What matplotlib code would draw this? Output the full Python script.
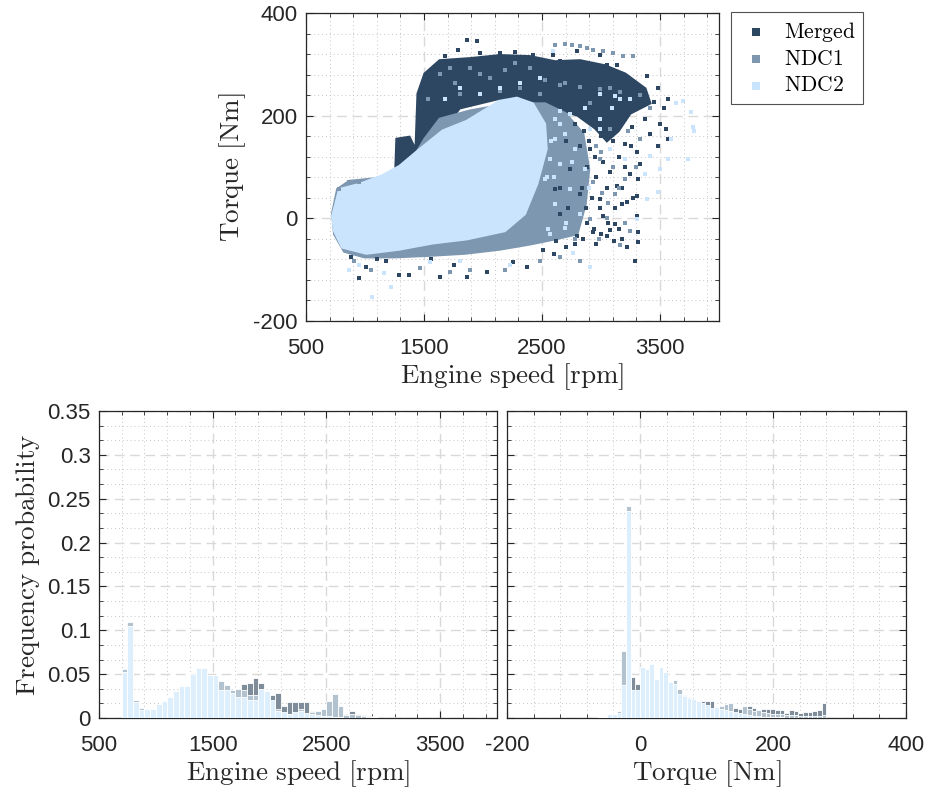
import numpy as np
import matplotlib
matplotlib.use("Agg")
import matplotlib.pyplot as plt
from matplotlib.ticker import FixedLocator, FuncFormatter

plt.rcParams['mathtext.fontset'] = 'cm'
plt.rcParams['font.family'] = ['Liberation Sans', 'DejaVu Sans']
plt.rcParams['axes.unicode_minus'] = False

# ---------------- scatter data (engine speed [rpm], torque [Nm]) ----------------
# dense regions (outline of the point clouds)
merged_poly_rpm = [1257, 1266, 1377, 1428, 1445, 1504, 1632, 1887, 2143, 2398, 2611, 2823, 3036, 3206,
                   3377, 3419, 3249, 3150, 3050, 2950, 2800, 2600, 2483, 2143, 1802, 1547, 1411, 1291]
merged_poly_trq = [96, 155, 159, 135, 243, 282, 308, 312, 318, 316, 306, 308, 298, 282,
                   253, 224, 204, 170, 150, 175, 200, 215, 204, 233, 214, 135, 86, 76]
ndc1_poly_rpm = [721, 764, 866, 1181, 1377, 1504, 1632, 1887, 2228, 2526, 2700, 2850, 2900, 2870,
                 2800, 2611, 2398, 2143, 1845, 1547, 1249, 994, 823, 738]
ndc1_poly_trq = [10, 57, 73, 80, 106, 155, 194, 210, 224, 224, 205, 165, 96, 27,
                 -31, -41, -51, -61, -69, -73, -76, -76, -65, -31]
ndc2_poly_rpm = [721, 781, 951, 1147, 1291, 1462, 1657, 1862, 2032, 2143, 2287, 2423, 2526, 2540,
                 2460, 2355, 2185, 1862, 1572, 1291, 1011, 806, 738]
ndc2_poly_trq = [4, 57, 67, 84, 102, 135, 171, 190, 214, 229, 235, 224, 184, 135,
                 67, 8, -25, -41, -49, -61, -69, -57, -25]

# sparse points
merged_rpm = [3564, 3479, 3530, 3547, 3564, 3394, 3309, 3317, 3309, 3309, 3317, 3317, 3223, 3181,
              3138, 3053, 2994, 2798, 2594, 2424, 3445, 3479, 3138, 2994, 3019, 2934, 3053, 2798,
              2509, 3292, 3223, 1862, 1947, 1292, 1377, 1632, 1862, 2372, 2032, 1011, 951,
              3377, 3266, 3206, 3419, 3334, 3249, 3181, 3121, 3079, 3206, 3504, 3377, 3292, 3164,
              3036, 2909, 2781, 2653, 2270, 2143, 1972, 1785, 1675,
              2738, 2823, 2653, 2909, 2781, 2611, 1100, 1180, 1560, 1750, 2250, 2600, 880,
              2900, 2950, 3000, 2880, 2960, 3020, 3080, 2920, 2990, 3050, 2880, 2940, 3000, 3100,
              3150, 3180, 3120, 3060, 2860, 2820, 2840, 2870, 2850, 2960, 3110, 3200, 3250, 3270,
              3150, 2780, 2700, 2620, 3000, 3090, 2700, 2650, 2720]
merged_trq = [233, 253, 214, 175, 155, 278, 129, 76, 43, 4, -27, -47, 31, -41,
              298, 298, 318, 326, 318, 318, 227, 141, 63, 37, 4, -27, -35, -35,
              -61, -84, -55, 347, 345, -110, -110, -114, -114, -94, -104, -94, -116,
              194, 178, 145, 165, 106, 86, 27, -12, -22, 194, 184, 237, 263, 273,
              282, 282, 296, 306, 324, 322, 322, 327, 316,
              96, 47, 8, 135, 184, 57, -80, -84, -80, -90, -86, -70, -76,
              150, 120, 160, 100, 80, 110, 90, 40, 20, 60, -10, -20, -30, 150,
              120, 60, 20, -10, 170, 140, 60, 20, -40, -50, -45, 100, 140, 40,
              -20, -50, -55, -45, 200, 185, 150, 60, 20]
ndc1_rpm = [2755, 2823, 2883, 2934, 3019, 3104, 3189, 3275, 2696, 2611,
            2653, 2823, 2994, 3164, 3334,
            1632, 1760, 1887, 2057, 2185, 2313, 2398, 2526, 1802, 2143,
            909, 1053, 1462, 1717, 1887, 2185, 2483, 2653, 2823, 3164, 3249, 3121, 3206, 3334, 3419,
            781, 866, 951,
            1530, 1717, 1972, 2270, 2483, 2696, 2909, 3079, 2994, 2909, 2781, 3079,
            3000, 3100, 3050, 3150, 3200, 2980, 3230, 3300, 2930, 3010, 2960, 3060]
ndc1_trq = [337, 335, 331, 327, 326, 322, 316, 316, 339, 337,
            259, 255, 251, 247, 241,
            282, 263, 292, 273, 288, 253, 292, 269, 243, 249,
            -84, -100, -96, -104, -100, -100, -84, -76, -84, -51, -25, 47, 76, 155, 214,
            57, 71, 71,
            233, 292, 282, 302, 243, 263, 224, 253, 116, -2, -41, 175,
            130, 100, 0, 60, -10, -40, 170, 100, 70, 50, 140, 30]
ndc2_rpm = [1062, 1223, 3785, 3777, 3760, 3589, 3564, 3419, 3734, 3479, 3394, 3309, 2909, 2764,
            2594, 3632, 3692, 3504, 3377, 3206, 3079, 2994, 2866, 2738, 2653, 2611, 2568, 2526,
            2994, 3121, 3249, 951, 866, 1164, 1547, 1802, 2228,
            2611, 2696, 2781, 2653, 2866, 2738, 2611, 2823, 2696, 2568, 2909, 2543, 2994, 3096,
            3164, 2483, 2313, 2143, 1972, 1802, 1675,
            2550, 2600, 2750, 2700, 2580, 2650, 2900]
ndc2_trq = [-153, -133, 171, 178, 208, 155, 116, 122, 116, 51, 37, -2, -94, -67,
            326, 224, 229, 96, 86, 116, 135, 175, 214, 204, 184, 155, 116, 76,
            243, 239, 233, -90, -100, -106, -86, -84, -90,
            194, 165, 135, 106, 96, 57, 27, 8, -18, -31, 175, 80, 194, 214,
            233, 273, 263, 253, 243, 253, 233,
            -20, 80, 110, -10, 150, 210, 60]

# ---------------- histogram data ----------------
speed_edges_start = 700
speed_bin = 50
speed_ndc2 = [0.053, 0.1045, 0.018, 0.0087, 0.0100, 0.0097, 0.0165, 0.019, 0.024, 0.0305,
              0.037, 0.0365, 0.0505, 0.0565, 0.0575, 0.0487, 0.0487, 0.0315, 0.0315, 0.029,
              0.024, 0.0245, 0.021, 0.021, 0.0334, 0.031, 0.0205, 0.0082, 0.0072, 0.0048,
              0.0074, 0.0085, 0.0057, 0.005, 0.003, 0.002, 0.002, 0.0015, 0.001, 0.0005,
              0.0005, 0.0003, 0.0002, 0.0001, 0.0001, 0.0001, 0.0001, 0.0, 0.0, 0.0, 0.0, 0.0, 0.0]
speed_ndc1 = [0.0555, 0.110, 0.021, 0.011, 0.009, 0.009, 0.015, 0.017, 0.022, 0.028,
              0.033, 0.033, 0.046, 0.050, 0.051, 0.045, 0.046, 0.042, 0.0376, 0.0315,
              0.0334, 0.0315, 0.026, 0.026, 0.030, 0.028, 0.019, 0.0105, 0.006, 0.004,
              0.006, 0.0108, 0.005, 0.0072, 0.0082, 0.0097, 0.019, 0.0268, 0.014, 0.003,
              0.004, 0.003, 0.002, 0.001, 0.0006, 0.0003, 0.0003, 0.0002, 0.0003, 0.0002, 0.0001, 0.0001, 0.0]
speed_merged = [0.050, 0.100, 0.017, 0.008, 0.008, 0.008, 0.014, 0.016, 0.021, 0.027,
                0.032, 0.032, 0.044, 0.048, 0.049, 0.043, 0.044, 0.038, 0.035, 0.030,
                0.030, 0.039, 0.040, 0.046, 0.040, 0.027, 0.0265, 0.0288, 0.0135, 0.0188,
                0.0188, 0.0188, 0.0188, 0.008, 0.006, 0.007, 0.012, 0.015, 0.010, 0.0046,
                0.0078, 0.005, 0.0038, 0.002, 0.0011, 0.0006, 0.0005, 0.0004, 0.0007, 0.0005,
                0.0003, 0.0004, 0.0002]

torque_edges_start = -63
torque_bin = 7
torque_ndc2 = [0.0008, 0.0015, 0.004, 0.0046, 0.0057, 0.038, 0.236, 0.0315, 0.0315, 0.058,
               0.056, 0.061, 0.0448, 0.0578, 0.053, 0.041, 0.039, 0.0277, 0.0247, 0.0228,
               0.022, 0.0194, 0.0171, 0.0144, 0.0114, 0.0125, 0.0108, 0.0095, 0.0075, 0.007,
               0.0055, 0.004, 0.003, 0.0025, 0.002, 0.0015, 0.001, 0.001, 0.0008, 0.0008,
               0.0005, 0.0005, 0.0004, 0.0004, 0.0003, 0.0003, 0.0002, 0.0002, 0.0002, 0.0001, 0.0001]
torque_ndc1 = [0.0006, 0.0012, 0.003, 0.004, 0.0076, 0.076, 0.242, 0.028, 0.028, 0.050,
               0.050, 0.053, 0.040, 0.050, 0.047, 0.037, 0.0437, 0.0334, 0.0266, 0.0239,
               0.020, 0.018, 0.016, 0.013, 0.010, 0.011, 0.0135, 0.016, 0.017, 0.006,
               0.005, 0.0137, 0.0108, 0.0085, 0.0092, 0.007, 0.006, 0.005, 0.004, 0.004,
               0.003, 0.003, 0.003, 0.002, 0.002, 0.002, 0.002, 0.002, 0.003, 0.0005, 0.0003]
torque_merged = [0.0005, 0.001, 0.003, 0.0035, 0.005, 0.050, 0.200, 0.0467, 0.039, 0.048,
                 0.048, 0.050, 0.038, 0.048, 0.045, 0.035, 0.036, 0.026, 0.023, 0.021,
                 0.019, 0.017, 0.0198, 0.0198, 0.019, 0.010, 0.012, 0.014, 0.015, 0.0117,
                 0.0108, 0.012, 0.0133, 0.0114, 0.008, 0.0108, 0.0106, 0.0099, 0.0091, 0.0089,
                 0.0061, 0.0087, 0.0076, 0.0061, 0.0072, 0.0072, 0.0076, 0.0091, 0.0175, 0.0012, 0.0008]

series_names = ['Merged', 'NDC1', 'NDC2']
scatter_colors = ['#2d4763', '#7d97b1', '#cae4fe']
hist_colors = ['#7f8d9b', '#b3c2cf', '#ddeefd']

# ---------------- figure ----------------
W, H = 930, 793
fig = plt.figure(figsize=(W / 100, H / 100), dpi=100)
ax1 = fig.add_axes([306 / W, 1 - 321 / H, 413 / W, 308 / H])
ax2 = fig.add_axes([99 / W, 1 - 718 / H, 398 / W, 307 / H])
ax3 = fig.add_axes([507 / W, 1 - 718 / H, 399 / W, 307 / H])

TXT = '#262626'
LBL = 19.5


def style(ax, xlim, xmaj, xmin, ylim, ymaj, ymin):
    ax.set_xlim(*xlim)
    ax.set_ylim(*ylim)
    ax.xaxis.set_major_locator(FixedLocator(xmaj))
    ax.xaxis.set_minor_locator(FixedLocator(xmin))
    ax.yaxis.set_major_locator(FixedLocator(ymaj))
    ax.yaxis.set_minor_locator(FixedLocator(ymin))
    ax.set_axisbelow(True)
    ax.grid(which='minor', linestyle=(0, (1, 3)), color='#c4c4c4', linewidth=0.7)
    ax.grid(which='major', linestyle=(0, (7, 4)), color='#d9d9d9', linewidth=1.0)
    ax.tick_params(which='both', direction='in', top=True, right=True, colors=TXT,
                   labelsize=16, labelcolor=TXT)
    ax.tick_params(which='major', length=5, width=0.8)
    ax.tick_params(which='minor', length=3, width=0.6)
    ax.tick_params(axis='x', which='major', pad=12)
    ax.tick_params(axis='y', which='major', pad=6)
    for s in ax.spines.values():
        s.set_color(TXT)
        s.set_linewidth(0.9)


fmt = FuncFormatter(lambda v, p: f'{v:g}')

# ---- scatter ----
polys = [(merged_poly_rpm, merged_poly_trq), (ndc1_poly_rpm, ndc1_poly_trq), (ndc2_poly_rpm, ndc2_poly_trq)]
pts = [(merged_rpm, merged_trq), (ndc1_rpm, ndc1_trq), (ndc2_rpm, ndc2_trq)]
handles = []
for i in range(3):
    ax1.fill(polys[i][0], polys[i][1], color=scatter_colors[i], lw=1.5, ec=scatter_colors[i], zorder=2 + i)
for i in range(3):
    h = ax1.scatter(pts[i][0], pts[i][1], marker='s', s=12, color=scatter_colors[i], linewidths=0,
                    zorder=5 + i, label=r'$\mathrm{' + series_names[i] + '}$')
    handles.append(h)

style(ax1, (500, 4000), [500, 1500, 2500, 3500], np.arange(500, 4001, 200),
      (-200, 400), [-200, 0, 200, 400], np.arange(-200, 401, 40))
ax1.set_xlabel(r'$\mathrm{Engine\ speed\ [rpm]}$', fontsize=LBL, color=TXT, labelpad=2)
ax1.set_ylabel(r'$\mathrm{Torque\ [Nm]}$', fontsize=LBL, color=TXT, labelpad=4)

leg = fig.legend(handles=handles, loc='upper left', bbox_to_anchor=(731 / W, 1 - 12 / H),
                 borderaxespad=0, fontsize=15.5, frameon=True, fancybox=False, edgecolor=TXT,
                 markerscale=1.8, handletextpad=0.5, borderpad=0.35, labelspacing=0.25,
                 handlelength=1.6)
leg.get_frame().set_linewidth(0.8)


# ---- histograms ----
def draw_hist(ax, start, width, series):
    for i in range(3):
        vals = series[i]
        lefts = [start + width * k for k in range(len(vals))]
        ax.bar(lefts, vals, width=width, align='edge', color=hist_colors[i],
               edgecolor='white', linewidth=0.6, zorder=2 + i)


draw_hist(ax2, speed_edges_start, speed_bin, [speed_merged, speed_ndc1, speed_ndc2])
draw_hist(ax3, torque_edges_start, torque_bin, [torque_merged, torque_ndc1, torque_ndc2])

yt = [0, 0.05, 0.1, 0.15, 0.2, 0.25, 0.3, 0.35]
ym = np.arange(0, 0.3501, 0.05 / 3)
style(ax2, (500, 4000), [500, 1500, 2500, 3500], np.arange(500, 4001, 200), (0, 0.35), yt, ym)
style(ax3, (-200, 400), [-200, 0, 200, 400], np.arange(-200, 401, 40), (0, 0.35), yt, ym)
ax2.yaxis.set_major_formatter(fmt)
ax3.set_yticklabels([])
ax2.set_xlabel(r'$\mathrm{Engine\ speed\ [rpm]}$', fontsize=LBL, color=TXT, labelpad=2)
ax3.set_xlabel(r'$\mathrm{Torque\ [Nm]}$', fontsize=LBL, color=TXT, labelpad=2)
ax2.set_ylabel(r'$\mathrm{Frequency\ probability}$', fontsize=LBL, color=TXT, labelpad=4)

fig.savefig('out.png', dpi=100)
